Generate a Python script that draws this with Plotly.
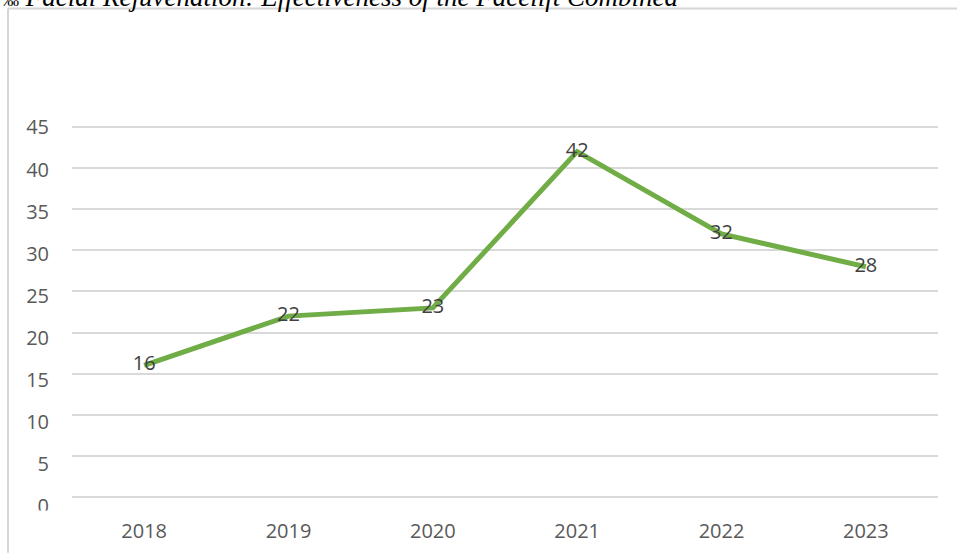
import plotly.graph_objects as go

years = ["2018", "2019", "2020", "2021", "2022", "2023"]
values = [16, 22, 23, 42, 32, 28]
y_ticks = [0, 5, 10, 15, 20, 25, 30, 35, 40, 45]
title_text = "Facial Rejuvenation: Effectiveness of the Facelift Combined"

W, H = 957, 556
L, R = 72, 938
T, B = 122, 509          # paper top/bottom in pixels
GRID_TOP, GRID_BOTTOM = 127, 500
ph = B - T
pw = R - L

def px_y(p):
    return (B - p) / ph

def px_x(p):
    return (p - L) / pw

pad = 0.3
unit_px = (GRID_BOTTOM - GRID_TOP) / 45.0
grid_dom = [px_y(GRID_BOTTOM + pad * unit_px), px_y(GRID_TOP - pad * unit_px)]

lab_unit = (509 - 127.5) / 45.0
lab_top_val = 45 + (127.5 - T) / lab_unit

fig = go.Figure()

fig.add_trace(go.Scatter(x=years, y=values, xaxis="x", yaxis="y",
                         mode="lines", line=dict(color="rgba(0,0,0,0)"),
                         hoverinfo="skip", showlegend=False))

fig.add_trace(go.Scatter(
    x=years, y=values, xaxis="x", yaxis="y2",
    mode="lines+text",
    line=dict(color="#70AD47", width=5),
    text=[str(v) for v in values],
    textposition="middle center",
    textfont=dict(family="Open Sans", size=20, color="#404040"),
    showlegend=False,
))

frame = dict(color="#D6D6D6", width=2)

fig.update_layout(
    width=W, height=H,
    margin=dict(l=L, r=W - R, t=T, b=H - B),
    paper_bgcolor="white", plot_bgcolor="white",
    xaxis=dict(
        type="category", anchor="y2",
        showgrid=False, zeroline=False, showline=False,
        ticks="", ticklabelstandoff=17,
        tickfont=dict(family="Open Sans", size=20, color="#595959"),
        range=[-0.5, 5.5],
    ),
    yaxis=dict(
        range=[0, lab_top_val], domain=[0, 1], anchor="x",
        tickvals=y_ticks, ticktext=[str(v) for v in y_ticks],
        showgrid=False, zeroline=False, showline=False, ticks="",
        ticklabelstandoff=22,
        tickfont=dict(family="Open Sans", size=20, color="#595959"),
    ),
    yaxis2=dict(
        range=[-pad, 45 + pad], domain=grid_dom, anchor="x",
        tickvals=y_ticks, showticklabels=False,
        showgrid=True, gridcolor="#D9D9D9", gridwidth=1.5,
        zeroline=False, showline=False, ticks="",
    ),
    shapes=[
        dict(type="line", xref="paper", yref="paper",
             x0=px_x(8), x1=px_x(W), y0=px_y(7.5), y1=px_y(7.5),
             line=frame, layer="below"),
        dict(type="line", xref="paper", yref="paper",
             x0=px_x(8), x1=px_x(8), y0=px_y(7.5), y1=px_y(H),
             line=frame, layer="below"),
        dict(type="rect", xref="paper", yref="paper",
             x0=px_x(20), x1=px_x(66), y0=px_y(522), y1=px_y(513.5),
             line=dict(width=0), fillcolor="white", layer="above"),
    ],
    annotations=[
        dict(xref="paper", yref="paper", x=px_x(0), y=px_y(13),
             xanchor="left", yanchor="bottom", showarrow=False,
             text="<span style='font-size:17px'>‰</span> <i>" + title_text + "</i>",
             font=dict(family="Liberation Serif", size=27, color="black")),
    ],
)

fig.write_html("out.html")
